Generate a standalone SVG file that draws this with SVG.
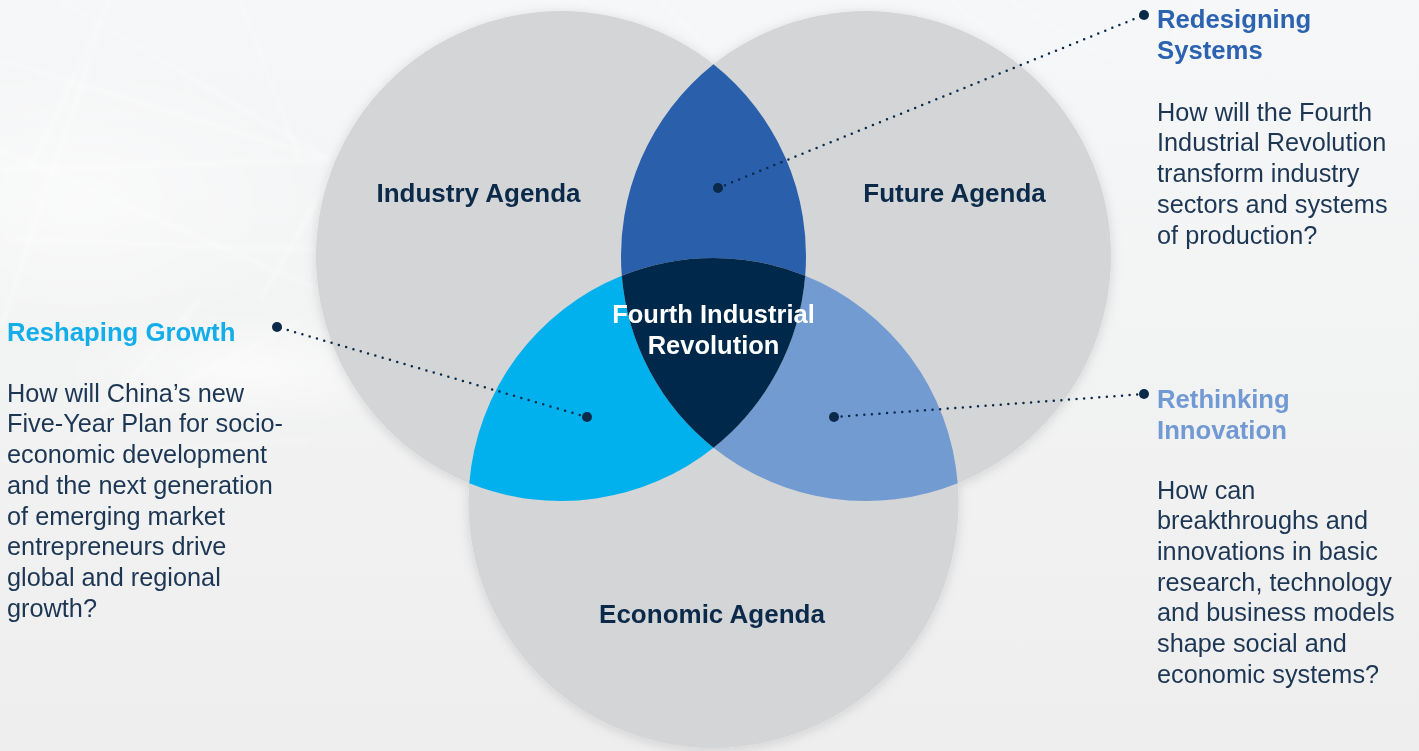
<svg xmlns="http://www.w3.org/2000/svg" width="1419" height="751" viewBox="0 0 1419 751">
<defs>
<linearGradient id="bg" x1="0" y1="0" x2="0" y2="1">
<stop offset="0" stop-color="#f6f7f8"/>
<stop offset="1" stop-color="#eeeeee"/>
</linearGradient>
<radialGradient id="glow" cx="0.5" cy="0.5" r="0.5">
<stop offset="0" stop-color="#ffffff" stop-opacity="0.9"/>
<stop offset="1" stop-color="#ffffff" stop-opacity="0"/>
</radialGradient>
<filter id="blur" x="-10%" y="-10%" width="120%" height="120%">
<feGaussianBlur stdDeviation="2"/>
</filter>
<filter id="shadow" x="-20%" y="-20%" width="140%" height="140%">
<feDropShadow dx="0" dy="2" stdDeviation="6" flood-color="#000000" flood-opacity="0.13"/>
</filter>
<style>
.circle{fill:#d4d5d7;}
.lbl{font-family:"Liberation Sans",Arial,sans-serif;font-weight:bold;font-size:26px;fill:#0b2a4a;text-anchor:middle;}
.center{font-family:"Liberation Sans",Arial,sans-serif;font-weight:bold;font-size:25.5px;fill:#ffffff;text-anchor:middle;}
.head{font-family:"Liberation Sans",Arial,sans-serif;font-weight:bold;font-size:25.7px;}
.body{font-family:"Liberation Sans",Arial,sans-serif;font-size:25.3px;fill:#1c3654;}
.dots{fill:none;stroke:#0b2a4a;stroke-width:2.5;stroke-linecap:round;stroke-dasharray:0 7.6;}
.dot{fill:#0b2a4a;}
.streak{stroke:#ffffff;stroke-width:3;fill:none;opacity:0.4;}
</style>
</defs>

<rect width="1419" height="751" fill="url(#bg)"/>
<g id="background-streaks" filter="url(#blur)">
<ellipse cx="80" cy="200" rx="260" ry="150" fill="url(#glow)" opacity="0.6"/>
<ellipse cx="250" cy="370" rx="200" ry="60" fill="url(#glow)" opacity="0.7"/>
<path class="streak" d="M0 60 L330 160"/>
<path class="streak" d="M60 0 L330 160"/>
<path class="streak" d="M0 150 L320 290"/>
<path class="streak" d="M30 170 L110 0"/>
<path class="streak" d="M0 330 L100 30"/>
<path class="streak" d="M0 170 L320 160"/>
<path class="streak" d="M10 240 L320 250"/>
<path class="streak" d="M240 0 L300 160"/>
<path class="streak" d="M0 460 L310 440"/>
<path class="streak" d="M120 420 L300 320"/>
<path class="streak" d="M260 300 L340 160"/>
<path class="streak" d="M200 300 L60 460"/>
<path class="streak" d="M950 0 L1000 40"/>
<path class="streak" d="M1010 0 L1110 60"/>
<path class="streak" d="M1200 0 L1170 40"/>
<path class="streak" d="M660 0 L700 40"/>
<path class="streak" d="M580 0 L620 20"/>
</g>

<g id="circles" filter="url(#shadow)">
<circle id="industry-circle" class="circle" cx="561" cy="256" r="245"/>
<circle id="future-circle" class="circle" cx="866" cy="256" r="245"/>
<circle id="economic-circle" class="circle" cx="713.5" cy="503" r="245"/>
</g>

<g id="node-redesigning-region">
<path d="M713.5,64.3 A245,245 0 0,0 621.8,275.8 A245,245 0 0,1 805.2,275.8 A245,245 0 0,0 713.5,64.3 Z" fill="#2a5fac"/>
</g>
<g id="node-reshaping-region">
<path d="M469.3,483.2 A245,245 0 0,1 621.8,275.8 A245,245 0 0,0 713.5,447.7 A245,245 0 0,1 469.3,483.2 Z" fill="#00b1ee"/>
</g>
<g id="node-rethinking-region">
<path d="M957.7,483.2 A245,245 0 0,0 805.2,275.8 A245,245 0 0,1 713.5,447.7 A245,245 0 0,0 957.7,483.2 Z" fill="#729bd2"/>
</g>
<g id="node-fourth-industrial-revolution">
<path d="M621.8,275.8 A245,245 0 0,1 805.2,275.8 A245,245 0 0,1 713.5,447.7 A245,245 0 0,1 621.8,275.8 Z" fill="#00284a"/>
<text class="center" x="713.5" y="323">Fourth Industrial</text>
<text class="center" x="713.5" y="354">Revolution</text>
</g>

<g id="node-industry-agenda">
<text class="lbl" x="478.5" y="202">Industry Agenda</text>
</g>
<g id="node-future-agenda">
<text class="lbl" x="954.5" y="202">Future Agenda</text>
</g>
<g id="node-economic-agenda">
<text class="lbl" x="712" y="623">Economic Agenda</text>
</g>

<g id="connectors">
<line class="dots" x1="718" y1="188" x2="1144" y2="15"/>
<line class="dots" x1="587" y1="417" x2="277" y2="327"/>
<line class="dots" x1="834" y1="417" x2="1144" y2="394"/>
<circle class="dot" cx="718" cy="188" r="5"/>
<circle class="dot" cx="1144" cy="15" r="5"/>
<circle class="dot" cx="587" cy="417" r="5"/>
<circle class="dot" cx="277" cy="327" r="5"/>
<circle class="dot" cx="834" cy="417" r="5"/>
<circle class="dot" cx="1144" cy="394" r="5"/>
</g>

<g id="node-reshaping-growth">
<text class="head" x="7" y="340.7" fill="#13aeea">Reshaping Growth</text>
<text class="body" x="7" y="401.7">How will China’s new</text>
<text class="body" x="7" y="432.4">Five-Year Plan for socio-</text>
<text class="body" x="7" y="463.1">economic development</text>
<text class="body" x="7" y="493.8">and the next generation</text>
<text class="body" x="7" y="524.5">of emerging market</text>
<text class="body" x="7" y="555.2">entrepreneurs drive</text>
<text class="body" x="7" y="585.9">global and regional</text>
<text class="body" x="7" y="616.6">growth?</text>
</g>

<g id="node-redesigning-systems">
<text class="head" x="1157" y="28.3" fill="#2b63b0">Redesigning</text>
<text class="head" x="1157" y="58.6" fill="#2b63b0">Systems</text>
<text class="body" x="1157" y="120.7">How will the Fourth</text>
<text class="body" x="1157" y="151.4">Industrial Revolution</text>
<text class="body" x="1157" y="182.1">transform industry</text>
<text class="body" x="1157" y="212.8">sectors and systems</text>
<text class="body" x="1157" y="243.5">of production?</text>
</g>

<g id="node-rethinking-innovation">
<text class="head" x="1157" y="408.3" fill="#7199d3">Rethinking</text>
<text class="head" x="1157" y="438.6" fill="#7199d3">Innovation</text>
<text class="body" x="1157" y="498.5">How can</text>
<text class="body" x="1157" y="529.2">breakthroughs and</text>
<text class="body" x="1157" y="559.9">innovations in basic</text>
<text class="body" x="1157" y="590.6">research, technology</text>
<text class="body" x="1157" y="621.3">and business models</text>
<text class="body" x="1157" y="652">shape social and</text>
<text class="body" x="1157" y="682.7">economic systems?</text>
</g>
</svg>
